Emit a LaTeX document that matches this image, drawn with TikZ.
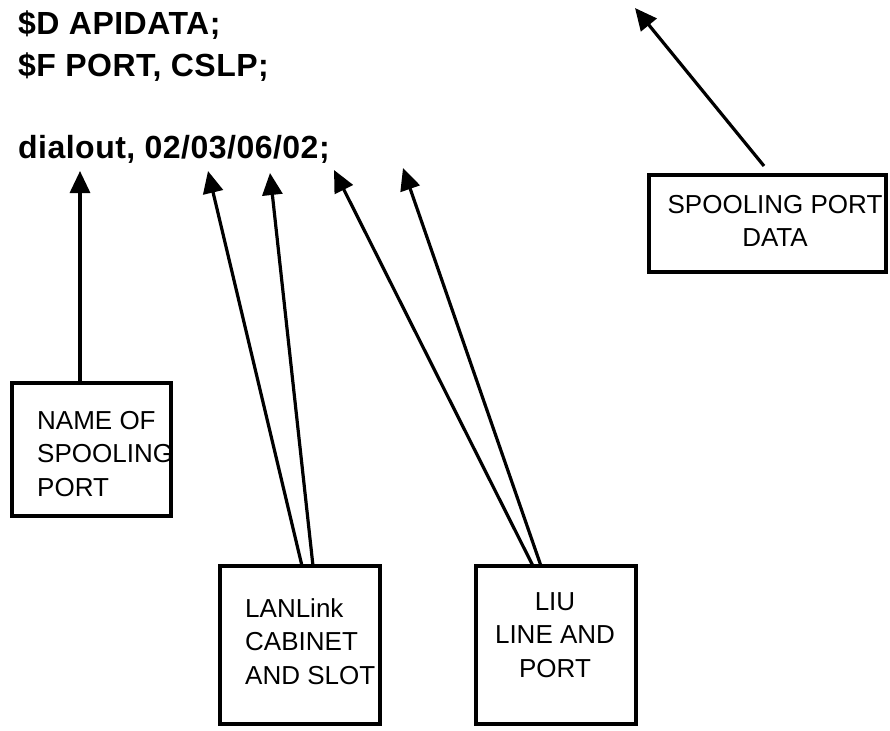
\documentclass[tikz,border=0pt]{standalone}
\usepackage{fontspec}
\setmainfont{Liberation Sans}
\newfontfamily\codefont[LetterSpace=1.5]{Liberation Sans}
\usetikzlibrary{arrows.meta}
\begin{document}
\begin{tikzpicture}[x=1pt,y=-1pt,
  codeline/.style={anchor=base west, inner sep=0pt, font=\codefont\bfseries\fontsize{32}{36}\selectfont},
  labelbox/.style={draw, line width=4pt, inner sep=0pt, outer sep=0pt},
  boxtext/.style={inner sep=0pt, font=\fontsize{26}{33.5}\selectfont},
  pointer/.style={line width=3.2pt, -{Triangle[length=22pt,width=20pt]}}]
\useasboundingbox (0,0) rectangle (890,730);

% configuration lines
\node[codeline] (dline) at (18,35)  {\$D APIDATA;};
\node[codeline] (fline) at (18,77)  {\$F PORT, CSLP;};
\node[codeline] (cline) at (18,158) {dialout, 02/03/06/02;};

% label boxes
\node[labelbox, minimum width=159pt, minimum height=133pt] (name)  at (91.5,449.5) {};
\node[labelbox, minimum width=160pt, minimum height=158pt] (lan)   at (300,645) {};
\node[labelbox, minimum width=160pt, minimum height=158pt] (liu)   at (556,645) {};
\node[labelbox, minimum width=237pt, minimum height=97pt]  (spool) at (767.5,223.5) {};

% box captions
\node[boxtext, anchor=north west, align=left] (nametxt) at (37,411) {NAME OF\\SPOOLING\\PORT};
\node[boxtext, anchor=north west, align=left] (lantxt) at (245,598) {LANLink\\CABINET\\AND SLOT};
\node[boxtext, anchor=north, align=center] (liutxt) at (555,592) {LIU\\LINE AND\\PORT};
\node[boxtext, anchor=north, align=center] (spooltxt) at (775,195) {SPOOLING PORT\\DATA};

% arrow tips
\coordinate (tname) at (80,171);
\coordinate (tcab)  at (208,171);
\coordinate (tslot) at (270,173);
\coordinate (tline) at (334,170);
\coordinate (tport) at (403,168);
\coordinate (tdata) at (635,8);

% pointers
\draw[pointer] (tname |- name.north) -- (tname);
\draw[pointer] ([xshift=2pt]lan.north) -- (tcab);
\draw[pointer] ([xshift=13pt]lan.north) -- (tslot);
\draw[pointer] ([xshift=-23pt]liu.north) -- (tline);
\draw[pointer] ([xshift=-15pt]liu.north) -- (tport);
\draw[pointer] ([xshift=-3.5pt,yshift=9pt]spool.north) -- (tdata);
\end{tikzpicture}
\end{document}
